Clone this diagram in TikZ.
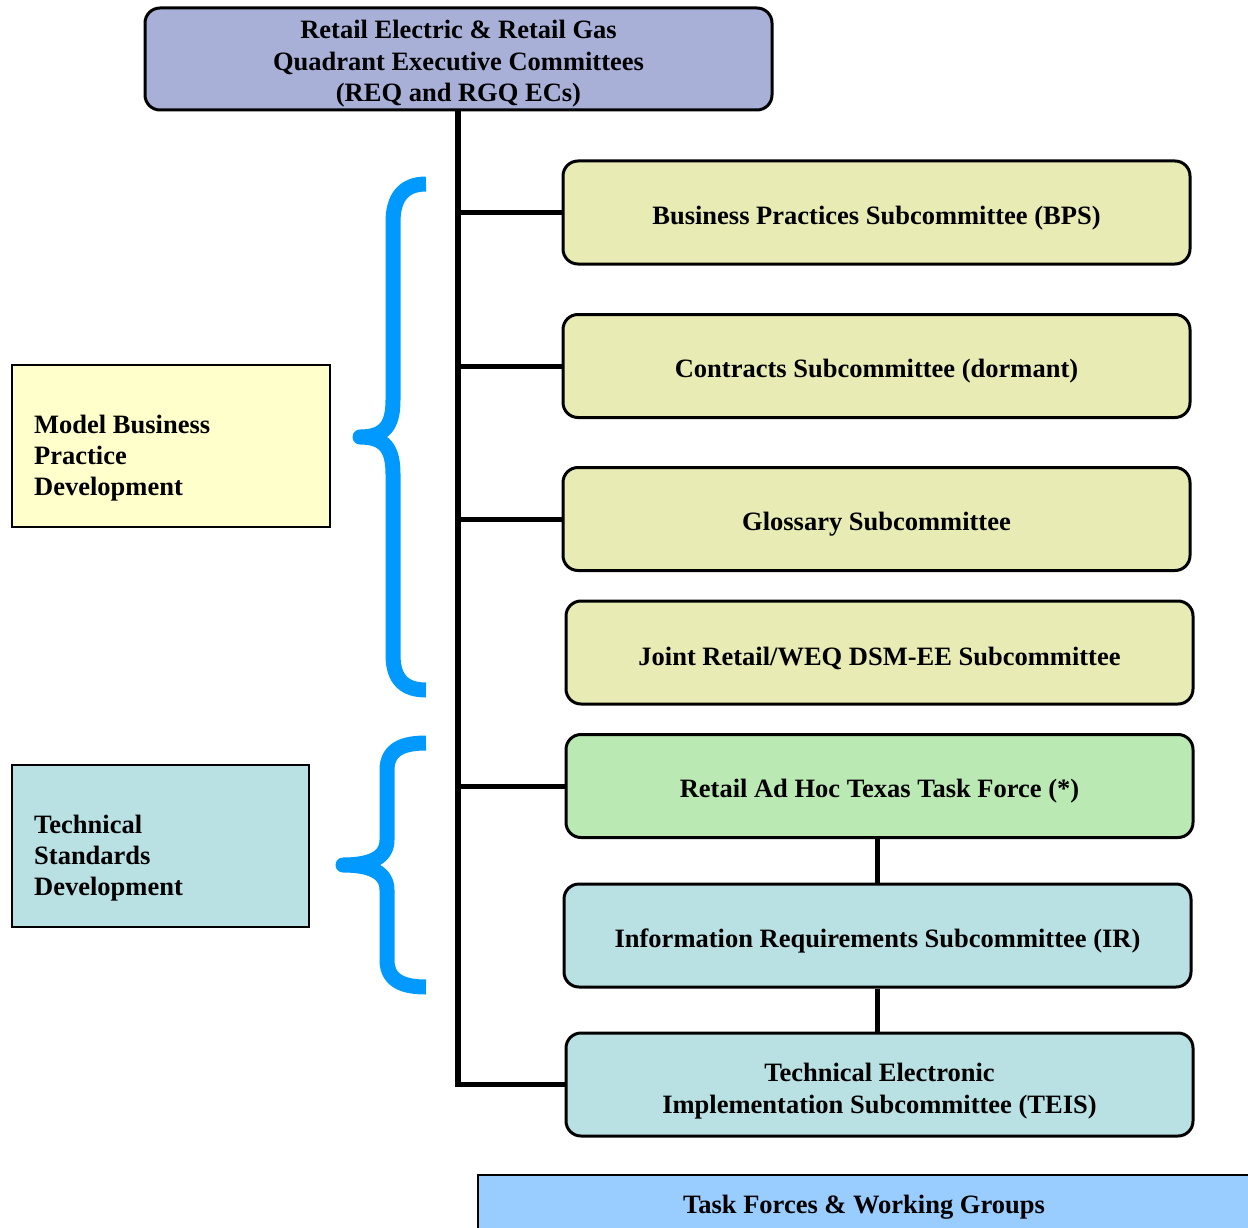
\documentclass[tikz,border=0pt]{standalone}
\usepackage{fontspec}
\setmainfont{Liberation Serif}
\begin{document}
\begin{tikzpicture}[x=1pt,y=-1pt,
  every node/.style={inner sep=0pt},
  txt/.style={font=\bfseries\fontsize{26.5}{31.5}\selectfont, align=center},
  ltxt/.style={font=\bfseries\fontsize{26.5}{31}\selectfont, align=left, anchor=west},
  rbox/.style={draw=black, line width=3pt, rounded corners=15pt, minimum width=627pt, minimum height=103pt},
  lbox/.style={draw=black, line width=2.2pt},
  conn/.style={line width=5pt, draw=black},
  brace/.style={draw=bracecol, line width=15pt, line join=round, line cap=butt}]
\definecolor{topcol}{HTML}{A8B0D8}
\definecolor{ylcol}{HTML}{E8ECB4}
\definecolor{grcol}{HTML}{BBE9B4}
\definecolor{tlcol}{HTML}{B9E0E3}
\definecolor{mbcol}{HTML}{FFFFCC}
\definecolor{tfcol}{HTML}{99CCFF}
\definecolor{bracecol}{HTML}{0099FF}
\useasboundingbox (0,0) rectangle (1248,1228);

\node[rbox, fill=topcol, minimum height=102pt] (top) at (458.5,59) {};
\node[rbox, fill=ylcol] (bps) at (876.5,212.5) {};
\node[rbox, fill=ylcol] (con) at (876.5,366) {};
\node[rbox, fill=ylcol] (glo) at (876.5,519) {};
\node[rbox, fill=ylcol] (joi) at (879.5,652.5) {};
\node[rbox, fill=grcol] (adh) at (879.5,786) {};
\node[rbox, fill=tlcol] (ir) at (877.5,935.5) {};
\node[rbox, fill=tlcol] (teis) at (879.5,1084.5) {};

\node[txt] (toptext) at (458.5,64) {Retail Electric \& Retail Gas\\Quadrant Executive Committees\\(REQ and RGQ ECs)};
\node[txt] (bpstext) at (876.5,218) {Business Practices Subcommittee (BPS)};
\node[txt] (context) at (876.5,371.5) {Contracts Subcommittee (dormant)};
\node[txt] (glotext) at (876.5,524.5) {Glossary Subcommittee};
\node[txt] (joitext) at (879.5,658) {Joint Retail/WEQ DSM-EE Subcommittee};
\node[txt] (adhtext) at (879.5,791.5) {Retail Ad Hoc Texas Task Force (*)};
\node[txt] (irtext) at (877.5,941) {Information Requirements Subcommittee (IR)};
\node[txt] (teistext) at (879.5,1091) {Technical Electronic\\Implementation Subcommittee (TEIS)};

\node[draw=black, line width=2.2pt, fill=tfcol, minimum width=790pt, minimum height=80pt, anchor=north west] (tf) at (477,1174) {};
\node[txt] (tftext) at (864,1207) {Task Forces \& Working Groups};

\node[lbox, fill=mbcol, minimum width=318pt, minimum height=162pt] (mb) at (171,446) {};
\node[ltxt] (mbtext) at (34,458) {Model Business\\Practice\\Development};
\node[lbox, fill=tlcol, minimum width=297pt, minimum height=162pt] (ts) at (160.5,846) {};
\node[ltxt] (tstext) at (34,858) {Technical\\Standards\\Development};

\coordinate (t0) at (458,110);
\coordinate (t1) at (458,212.5);
\coordinate (t2) at (458,366);
\coordinate (t3) at (458,519);
\coordinate (t4) at (458,786);
\coordinate (t5) at (458,1084.5);
\draw[conn, line width=5.5pt, line join=miter] (t0) -- (t5) -- (teis.west);
\draw[conn] (t1) -- (bps.west);
\draw[conn] (t2) -- (con.west);
\draw[conn] (t3) -- (glo.west);
\draw[conn] (t4) -- (adh.west);
\draw[conn] (adh.south -| ir.north) -- (ir.north);
\draw[conn] (ir.south) -- (ir.south |- teis.north);

\draw[brace] (426,184) .. controls (405,184) and (393,196) .. (393,222) -- (393,400)
  .. controls (393,425) and (385,437) .. (360,437)
  .. controls (385,437) and (393,449) .. (393,474) -- (393,655)
  .. controls (393,680) and (405,690) .. (426,690);
\draw[brace] (426,743) .. controls (405,743) and (387,748) .. (387,770) -- (387,840)
  .. controls (387,858) and (370,865) .. (343,865)
  .. controls (370,865) and (387,872) .. (387,890) -- (387,960)
  .. controls (387,982) and (405,987) .. (426,987);
\end{tikzpicture}
\end{document}
